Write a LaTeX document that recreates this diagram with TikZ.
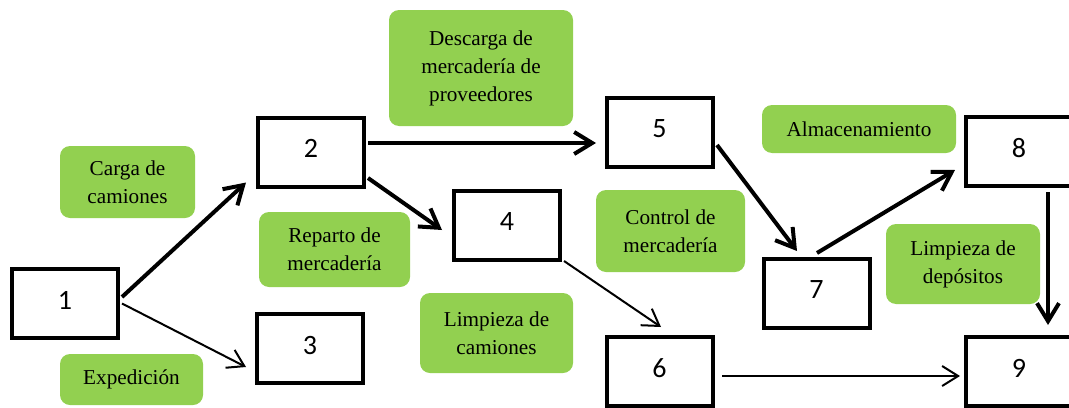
\documentclass[tikz,border=0pt]{standalone}
\usepackage{fontspec}
\setmainfont{Liberation Serif}
\newfontfamily\rotulo{Liberation Serif}
\newfontfamily\cifras{Carlito}
\usetikzlibrary{arrows.meta,calc}
\definecolor{verde}{HTML}{92D050}
\tikzset{
  caja/.style={draw, line width=2pt, minimum width=53pt, minimum height=34.5pt, inner sep=0, text depth=3.5pt, font=\cifras\fontsize{14}{17}\selectfont},
  tarea/.style={fill=verde, rounded corners=5pt, inner sep=0, align=center, font=\rotulo\fontsize{10.6}{14}\selectfont},
  flecha/.style={line width=2pt, -{Straight Barb[length=9pt,width=11pt]}},
  flechafina/.style={line width=1pt, -{Straight Barb[length=8pt,width=10pt]}},
}
\begin{document}
\begin{tikzpicture}[x=0.5pt,y=-0.5pt]
\useasboundingbox (0,0) rectangle (1069,407);

% actividades
\node[tarea, minimum width=67.5pt, minimum height=36pt] (carga) at (127.5,182) {Carga de\\camiones};
\node[tarea, minimum width=71.5pt, minimum height=25.5pt] (expedicion) at (131.5,379.5) {Expedición};
\node[tarea, minimum width=75.5pt, minimum height=37.5pt] (reparto) at (334.5,249.5) {Reparto de\\mercadería};
\node[tarea, minimum width=92pt, minimum height=58pt] (descarga) at (481,68) {Descarga de\\mercadería de\\proveedores};
\node[tarea, minimum width=76.5pt, minimum height=40pt] (limpcam) at (496.5,333) {Limpieza de\\camiones};
\node[tarea, minimum width=74.5pt, minimum height=41pt] (control) at (670.5,231) {Control de\\mercadería};
\node[tarea, minimum width=97pt, minimum height=24pt] (almacen) at (859,129) {Almacenamiento};
\node[tarea, minimum width=77pt, minimum height=40pt] (limpdep) at (963,264) {Limpieza de\\depósitos};

% nodos
\node[caja] (b1) at (65,303.5) {1};
\node[caja] (b2) at (311,152) {2};
\node[caja] (b3) at (310,348.5) {3};
\node[caja] (b4) at (507,225.5) {4};
\node[caja] (b5) at (659.5,132.5) {5};
\node[caja] (b6) at (659.5,371.5) {6};
\node[caja] (b7) at (816.5,293.5) {7};
\node[caja] (b8) at (1019,151.5) {8};
\node[caja] (b9) at (1019,371.5) {9};

% flechas
\draw[flecha] ($(b1.east)+(2,-6.5)$) -- ($(b2.south west)+(-10,-6)$);
\draw[flechafina] ($(b1.east)+(2,0)$) -- ($(b3.west)+(-9,18.5)$);
\draw[flecha] ($(b2.east)+(2,-9)$) -- ($(b5.west)+(-8.5,10.5)$);
\draw[flecha] ($(b2.east)+(2,26)$) -- ($(b4.west)+(-10,4.5)$);
\draw[flechafina] ($(b4.south east)+(2,-1)$) -- ($(b6.north)+(1.5,-8)$);
\draw[flecha] ($(b5.east)+(2.5,12.5)$) -- ($(b7.north)+(-19.5,-6)$);
\draw[flecha] ($(b7.north)+(0.5,-4)$) -- ($(b8.west)+(-9,18.5)$);
\draw[flecha] ($(b8.south)+(29,4)$) -- ($(b9.north)+(29,-10)$);
\draw[flechafina] ($(b6.east)+(7.5,4.5)$) -- ($(b9.west)+(-4,4.5)$);

\end{tikzpicture}
\end{document}
